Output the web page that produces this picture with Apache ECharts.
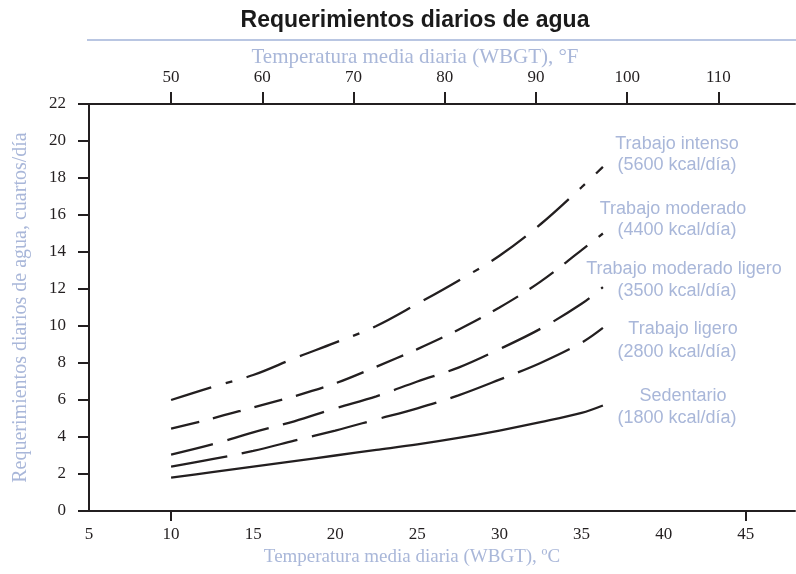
<!DOCTYPE html>
<html>
<head>
<meta charset="utf-8">
<script src="https://cdn.jsdelivr.net/npm/echarts@6/dist/echarts.min.js"></script>
<style>html,body{margin:0;padding:0;background:#fff}#c{width:796px;height:574px}</style>
</head>
<body>
<div id="c"></div>
<script>
// ---- data ----
const tempC = [10, 12.5, 15, 17.5, 20, 22.5, 25, 27.5, 30, 32.5, 35, 36.3];
const intenso        = [6.0, 6.7, 7.35, 8.25, 9.1, 10.0, 11.2, 12.45, 13.8, 15.5, 17.5, 18.6];
const moderado       = [4.45, 5.0, 5.6, 6.2, 6.9, 7.8, 8.75, 9.8, 11.0, 12.4, 14.1, 15.0];
const moderadoLigero = [3.05, 3.6, 4.25, 4.85, 5.55, 6.2, 7.0, 7.75, 8.75, 9.85, 11.2, 12.1];
const ligero         = [2.4, 2.8, 3.25, 3.8, 4.35, 4.95, 5.55, 6.25, 7.1, 8.0, 9.1, 9.9];
const sedentario     = [1.8, 2.1, 2.4, 2.7, 3.0, 3.3, 3.6, 3.95, 4.35, 4.8, 5.3, 5.7];
const xTicksC = [5, 10, 15, 20, 25, 30, 35, 40, 45];
const xTickMarksC = [10, 45];
const xTicksF = [50, 60, 70, 80, 90, 100, 110];
const labels = [
  ['Trabajo intenso', '(5600 kcal/día)'],
  ['Trabajo moderado', '(4400 kcal/día)'],
  ['Trabajo moderado ligero', '(3500 kcal/día)'],
  ['Trabajo ligero', '(2800 kcal/día)'],
  ['Sedentario', '(1800 kcal/día)']
];
const title = 'Requerimientos diarios de agua';
const xNameF = 'Temperatura media diaria (WBGT), °F';
const xNameC = 'Temperatura media diaria (WBGT), ºC';
const yName = 'Requerimientos diarios de agua, cuartos/día';

// ---- styles ----
const ink = '#231f20';
const blue = '#a9b7d9';
const serif = '"Liberation Serif", "Times New Roman", serif';
const sans = '"Liberation Sans", Arial, sans-serif';
const xMinC = 5, xMaxC = 48;
const c2f = c => 32 + 1.8 * c;

const pairs = arr => tempC.map((x, i) => [x, arr[i]]);
const mk = (name, arr, dash) => ({
  name, type: 'line', data: pairs(arr), smooth: 0.35, symbol: 'none',
  xAxisIndex: 0, yAxisIndex: 0,
  lineStyle: { color: ink, width: 2.3, type: dash, cap: 'butt' }
});

const labelPos = [
  [[677, 144], [677, 165]],
  [[673, 209], [677, 230]],
  [[684, 269], [677, 291]],
  [[683, 329], [677, 352]],
  [[683, 396], [677, 418]]
];
const graphics = [
  { type: 'text', style: { text: title, x: 415, y: 21, textAlign: 'center', textVerticalAlign: 'middle', font: 'bold 23px ' + sans, fill: '#1a1a1a' } },
  { type: 'line', shape: { x1: 87, y1: 40, x2: 796, y2: 40 }, style: { stroke: '#b9c6e2', lineWidth: 2 } },
  { type: 'text', style: { text: xNameF, x: 415, y: 57, textAlign: 'center', textVerticalAlign: 'middle', font: '21px ' + serif, fill: blue } },
  { type: 'text', style: { text: xNameC, x: 412, y: 557, textAlign: 'center', textVerticalAlign: 'middle', font: '19px ' + serif, fill: blue } }
];
labels.forEach((pair, i) => {
  pair.forEach((t, j) => {
    graphics.push({ type: 'text', style: { text: t, x: labelPos[i][j][0], y: labelPos[i][j][1], textAlign: 'center', textVerticalAlign: 'middle', font: '18px ' + sans, fill: blue } });
  });
});

const axisLine = { show: true, lineStyle: { color: ink, width: 2 } };

const option = {
  animation: false,
  backgroundColor: '#fff',
  grid: { left: 89, right: 1, top: 104, bottom: 63, containLabel: false, outerBoundsMode: 'none' },
  xAxis: [
    {
      type: 'value', position: 'bottom', min: xMinC, max: xMaxC,
      axisLine: { ...axisLine, onZero: false },
      axisTick: { show: true, customValues: xTickMarksC, length: 10, inside: false, lineStyle: { color: ink, width: 2 } },
      axisLabel: { customValues: xTicksC, margin: 15, color: ink, fontFamily: serif, fontSize: 17 },
      splitLine: { show: false }
    },
    {
      type: 'value', position: 'top', min: c2f(xMinC), max: c2f(xMaxC),
      axisLine: { ...axisLine, onZero: false },
      axisTick: { show: true, customValues: xTicksF, length: 12, inside: false, lineStyle: { color: ink, width: 2 } },
      axisLabel: { customValues: xTicksF, margin: 18, color: ink, fontFamily: serif, fontSize: 17 },
      splitLine: { show: false }
    }
  ],
  yAxis: {
    type: 'value', min: 0, max: 22, interval: 2,
    name: yName, nameLocation: 'middle', nameGap: 58, nameRotate: 90,
    nameTextStyle: { color: blue, fontFamily: serif, fontSize: 20 },
    axisLine: { ...axisLine, onZero: false },
    axisTick: { show: true, length: 11, lineStyle: { color: ink, width: 2 } },
    axisLabel: { margin: 23, color: ink, fontFamily: serif, fontSize: 17 },
    splitLine: { show: false }
  },
  series: [
    mk('Trabajo intenso', intenso, [42, 15, 7, 15, 42, 15]),
    mk('Trabajo moderado', moderado, [29, 14]),
    mk('Trabajo moderado ligero', moderadoLigero, [43, 15]),
    mk('Trabajo ligero', ligero, [57, 15]),
    mk('Sedentario', sedentario, 'solid')
  ],
  graphic: graphics
};

const chart = echarts.init(document.getElementById('c'), null, { renderer: 'canvas' });
chart.setOption(option);
</script>
</body>
</html>
